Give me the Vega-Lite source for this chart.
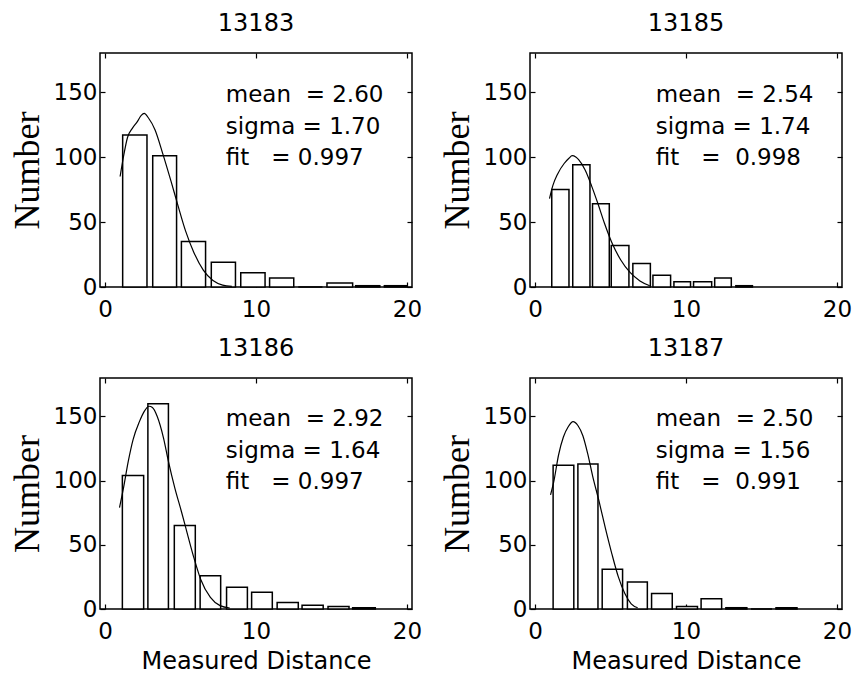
{
  "$schema": "https://vega.github.io/schema/vega-lite/v6.json",
  "padding": {"left": 8, "top": 11, "right": 0, "bottom": 0},
  "background": "white",
  "datasets": {
    "bars": [
      {"panel": "13183", "x0": 1.17, "x1": 2.78, "n": 117},
      {"panel": "13183", "x0": 3.16, "x1": 4.74, "n": 101},
      {"panel": "13183", "x0": 5.06, "x1": 6.66, "n": 35},
      {"panel": "13183", "x0": 7.04, "x1": 8.64, "n": 19},
      {"panel": "13183", "x0": 8.99, "x1": 10.6, "n": 11},
      {"panel": "13183", "x0": 10.9, "x1": 12.5, "n": 7},
      {"panel": "13183", "x0": 12.8, "x1": 14.4, "n": 0},
      {"panel": "13183", "x0": 14.7, "x1": 16.4, "n": 3},
      {"panel": "13183", "x0": 16.6, "x1": 18.2, "n": 1},
      {"panel": "13183", "x0": 18.5, "x1": 20.0, "n": 1},
      {"panel": "13185", "x0": 1.11, "x1": 2.25, "n": 75},
      {"panel": "13185", "x0": 2.5, "x1": 3.64, "n": 94},
      {"panel": "13185", "x0": 3.81, "x1": 4.92, "n": 64},
      {"panel": "13185", "x0": 5.05, "x1": 6.22, "n": 32},
      {"panel": "13185", "x0": 6.48, "x1": 7.64, "n": 18},
      {"panel": "13185", "x0": 7.81, "x1": 8.98, "n": 9},
      {"panel": "13185", "x0": 9.2, "x1": 10.3, "n": 4},
      {"panel": "13185", "x0": 10.5, "x1": 11.7, "n": 4},
      {"panel": "13185", "x0": 11.9, "x1": 13.0, "n": 7},
      {"panel": "13185", "x0": 13.3, "x1": 14.4, "n": 1},
      {"panel": "13186", "x0": 1.15, "x1": 2.56, "n": 104},
      {"panel": "13186", "x0": 2.84, "x1": 4.2, "n": 160},
      {"panel": "13186", "x0": 4.59, "x1": 5.98, "n": 65},
      {"panel": "13186", "x0": 6.3, "x1": 7.66, "n": 26},
      {"panel": "13186", "x0": 8.05, "x1": 9.43, "n": 17},
      {"panel": "13186", "x0": 9.71, "x1": 11.08, "n": 13},
      {"panel": "13186", "x0": 11.4, "x1": 12.8, "n": 5},
      {"panel": "13186", "x0": 13.05, "x1": 14.45, "n": 3},
      {"panel": "13186", "x0": 14.77, "x1": 16.16, "n": 2},
      {"panel": "13186", "x0": 16.4, "x1": 17.9, "n": 1},
      {"panel": "13187", "x0": 1.2, "x1": 2.57, "n": 112},
      {"panel": "13187", "x0": 2.84, "x1": 4.17, "n": 113},
      {"panel": "13187", "x0": 4.45, "x1": 5.8, "n": 31},
      {"panel": "13187", "x0": 6.12, "x1": 7.44, "n": 21},
      {"panel": "13187", "x0": 7.72, "x1": 9.09, "n": 12},
      {"panel": "13187", "x0": 9.37, "x1": 10.76, "n": 2},
      {"panel": "13187", "x0": 11.0, "x1": 12.36, "n": 8},
      {"panel": "13187", "x0": 12.64, "x1": 14.03, "n": 1},
      {"panel": "13187", "x0": 14.3, "x1": 15.7, "n": 0},
      {"panel": "13187", "x0": 15.96, "x1": 17.35, "n": 1}
    ],
    "fit": [
      {"panel": "13183", "x": 1.0, "y": 85}, {"panel": "13183", "x": 1.22, "y": 100}, {"panel": "13183", "x": 1.49, "y": 115},
      {"panel": "13183", "x": 1.81, "y": 122}, {"panel": "13183", "x": 2.13, "y": 127}, {"panel": "13183", "x": 2.4, "y": 132},
      {"panel": "13183", "x": 2.6, "y": 133.5}, {"panel": "13183", "x": 2.88, "y": 130}, {"panel": "13183", "x": 3.31, "y": 121},
      {"panel": "13183", "x": 3.84, "y": 102}, {"panel": "13183", "x": 4.38, "y": 81}, {"panel": "13183", "x": 4.8, "y": 64},
      {"panel": "13183", "x": 5.34, "y": 43}, {"panel": "13183", "x": 5.87, "y": 27}, {"panel": "13183", "x": 6.51, "y": 13},
      {"panel": "13183", "x": 7.15, "y": 5}, {"panel": "13183", "x": 7.79, "y": 1.5}, {"panel": "13183", "x": 8.4, "y": 0.5},
      {"panel": "13185", "x": 0.96, "y": 68}, {"panel": "13185", "x": 1.18, "y": 78}, {"panel": "13185", "x": 1.5, "y": 87},
      {"panel": "13185", "x": 1.93, "y": 95}, {"panel": "13185", "x": 2.25, "y": 99}, {"panel": "13185", "x": 2.46, "y": 101},
      {"panel": "13185", "x": 2.7, "y": 100}, {"panel": "13185", "x": 2.89, "y": 98}, {"panel": "13185", "x": 3.32, "y": 90},
      {"panel": "13185", "x": 3.74, "y": 78}, {"panel": "13185", "x": 4.17, "y": 64}, {"panel": "13185", "x": 4.6, "y": 49},
      {"panel": "13185", "x": 5.13, "y": 33}, {"panel": "13185", "x": 5.67, "y": 21}, {"panel": "13185", "x": 6.31, "y": 11},
      {"panel": "13185", "x": 6.95, "y": 4.7}, {"panel": "13185", "x": 7.6, "y": 1},
      {"panel": "13186", "x": 0.96, "y": 79}, {"panel": "13186", "x": 1.22, "y": 94}, {"panel": "13186", "x": 1.54, "y": 115},
      {"panel": "13186", "x": 1.86, "y": 132}, {"panel": "13186", "x": 2.28, "y": 146}, {"panel": "13186", "x": 2.6, "y": 154},
      {"panel": "13186", "x": 2.92, "y": 158}, {"panel": "13186", "x": 3.14, "y": 157}, {"panel": "13186", "x": 3.46, "y": 150},
      {"panel": "13186", "x": 3.88, "y": 133}, {"panel": "13186", "x": 4.2, "y": 115}, {"panel": "13186", "x": 4.63, "y": 94},
      {"panel": "13186", "x": 5.06, "y": 76}, {"panel": "13186", "x": 5.49, "y": 57}, {"panel": "13186", "x": 5.91, "y": 39},
      {"panel": "13186", "x": 6.34, "y": 23}, {"panel": "13186", "x": 6.98, "y": 9}, {"panel": "13186", "x": 7.62, "y": 2.6},
      {"panel": "13186", "x": 8.26, "y": 0.8},
      {"panel": "13187", "x": 1.03, "y": 89}, {"panel": "13187", "x": 1.24, "y": 99}, {"panel": "13187", "x": 1.56, "y": 120},
      {"panel": "13187", "x": 1.88, "y": 134}, {"panel": "13187", "x": 2.2, "y": 142}, {"panel": "13187", "x": 2.52, "y": 146},
      {"panel": "13187", "x": 2.84, "y": 143}, {"panel": "13187", "x": 3.17, "y": 135}, {"panel": "13187", "x": 3.49, "y": 121},
      {"panel": "13187", "x": 3.81, "y": 104}, {"panel": "13187", "x": 4.24, "y": 84}, {"panel": "13187", "x": 4.66, "y": 63},
      {"panel": "13187", "x": 5.09, "y": 43}, {"panel": "13187", "x": 5.52, "y": 25}, {"panel": "13187", "x": 5.95, "y": 12},
      {"panel": "13187", "x": 6.37, "y": 4}, {"panel": "13187", "x": 6.8, "y": 1}
    ],
    "notes": [
      {"panel": "13183", "tx": 8, "ty": 148, "label": "mean\u00a0\u00a0= 2.60"},
      {"panel": "13183", "tx": 8, "ty": 123, "label": "sigma = 1.70"},
      {"panel": "13183", "tx": 8, "ty": 99, "label": "fit\u00a0\u00a0\u00a0= 0.997"},
      {"panel": "13185", "tx": 8, "ty": 148, "label": "mean\u00a0\u00a0= 2.54"},
      {"panel": "13185", "tx": 8, "ty": 123, "label": "sigma = 1.74"},
      {"panel": "13185", "tx": 8, "ty": 99, "label": "fit\u00a0\u00a0\u00a0=\u00a0\u00a00.998"},
      {"panel": "13186", "tx": 8, "ty": 148, "label": "mean\u00a0\u00a0= 2.92"},
      {"panel": "13186", "tx": 8, "ty": 123, "label": "sigma = 1.64"},
      {"panel": "13186", "tx": 8, "ty": 99, "label": "fit\u00a0\u00a0\u00a0= 0.997"},
      {"panel": "13187", "tx": 8, "ty": 148, "label": "mean\u00a0\u00a0= 2.50"},
      {"panel": "13187", "tx": 8, "ty": 123, "label": "sigma = 1.56"},
      {"panel": "13187", "tx": 8, "ty": 99, "label": "fit\u00a0\u00a0\u00a0=\u00a0\u00a00.991"}
    ]
  },
  "config": {
    "view": {"stroke": "black", "strokeWidth": 1.5},
    "scale": {"nice": false},
    "axis": {
      "grid": false, "domain": false,
      "tickColor": "black", "tickSize": -5, "tickWidth": 1.2,
      "labelColor": "black", "labelFont": "DejaVu Sans", "labelFontSize": 23, "labelPadding": 8,
      "titleColor": "black", "titleFont": "Liberation Serif", "titleFontSize": 36, "titleFontWeight": "normal", "titlePadding": 7
    },
    "axisX": {"labelPadding": 16, "titleFont": "DejaVu Sans", "titleFontSize": 24, "titlePadding": 6},
    "title": {"font": "DejaVu Sans", "fontSize": 24, "fontWeight": "normal", "color": "black", "offset": 16}
  },
  "columns": 2,
  "spacing": {"column": 15, "row": 14},
  "concat": [
    {
      "title": "13183", "width": 312, "height": 234,
      "resolve": {"axis": {"x": "independent", "y": "independent"}},
      "layer": [
        {"data": {"name": "bars"}, "transform": [{"filter": "datum.panel === '13183'"}],
         "mark": {"type": "bar", "orient": "vertical", "fill": "white", "stroke": "black", "strokeWidth": 1.5},
         "encoding": {
           "x": {"field": "x0", "type": "quantitative", "scale": {"domain": [0, 20], "nice": false, "zero": false}, "axis": {"values": [0, 10, 20], "title": null}},
           "x2": {"field": "x1"},
           "y": {"field": "n", "type": "quantitative", "scale": {"domain": [0, 180], "nice": false}, "axis": {"values": [0, 50, 100, 150], "title": "Number"}},
           "y2": {"datum": 0}
         }},
        {"data": {"name": "fit"}, "transform": [{"filter": "datum.panel === '13183'"}],
         "mark": {"type": "line", "color": "black", "strokeWidth": 1.2, "interpolate": "monotone"},
         "encoding": {
           "x": {"field": "x", "type": "quantitative", "axis": {"orient": "top", "values": [0, 10, 20], "labels": false, "title": null}},
           "y": {"field": "y", "type": "quantitative", "axis": {"orient": "right", "values": [0, 50, 100, 150], "labels": false, "title": null}}
         }},
        {"data": {"name": "notes"}, "transform": [{"filter": "datum.panel === '13183'"}],
         "mark": {"type": "text", "align": "left", "baseline": "middle", "font": "DejaVu Sans", "fontSize": 23, "color": "black"},
         "encoding": {
           "x": {"field": "tx", "type": "quantitative", "axis": null},
           "y": {"field": "ty", "type": "quantitative", "axis": null},
           "text": {"field": "label"}
         }}
      ]
    },
    {
      "title": "13185", "width": 312, "height": 234,
      "resolve": {"axis": {"x": "independent", "y": "independent"}},
      "layer": [
        {"data": {"name": "bars"}, "transform": [{"filter": "datum.panel === '13185'"}],
         "mark": {"type": "bar", "orient": "vertical", "fill": "white", "stroke": "black", "strokeWidth": 1.5},
         "encoding": {
           "x": {"field": "x0", "type": "quantitative", "scale": {"domain": [0, 20], "nice": false, "zero": false}, "axis": {"values": [0, 10, 20], "title": null}},
           "x2": {"field": "x1"},
           "y": {"field": "n", "type": "quantitative", "scale": {"domain": [0, 180], "nice": false}, "axis": {"values": [0, 50, 100, 150], "title": "Number"}},
           "y2": {"datum": 0}
         }},
        {"data": {"name": "fit"}, "transform": [{"filter": "datum.panel === '13185'"}],
         "mark": {"type": "line", "color": "black", "strokeWidth": 1.2, "interpolate": "monotone"},
         "encoding": {
           "x": {"field": "x", "type": "quantitative", "axis": {"orient": "top", "values": [0, 10, 20], "labels": false, "title": null}},
           "y": {"field": "y", "type": "quantitative", "axis": {"orient": "right", "values": [0, 50, 100, 150], "labels": false, "title": null}}
         }},
        {"data": {"name": "notes"}, "transform": [{"filter": "datum.panel === '13185'"}],
         "mark": {"type": "text", "align": "left", "baseline": "middle", "font": "DejaVu Sans", "fontSize": 23, "color": "black"},
         "encoding": {
           "x": {"field": "tx", "type": "quantitative", "axis": null},
           "y": {"field": "ty", "type": "quantitative", "axis": null},
           "text": {"field": "label"}
         }}
      ]
    },
    {
      "title": "13186", "width": 312, "height": 231,
      "resolve": {"axis": {"x": "independent", "y": "independent"}},
      "layer": [
        {"data": {"name": "bars"}, "transform": [{"filter": "datum.panel === '13186'"}],
         "mark": {"type": "bar", "orient": "vertical", "fill": "white", "stroke": "black", "strokeWidth": 1.5},
         "encoding": {
           "x": {"field": "x0", "type": "quantitative", "scale": {"domain": [0, 20], "nice": false, "zero": false}, "axis": {"values": [0, 10, 20], "title": "Measured Distance"}},
           "x2": {"field": "x1"},
           "y": {"field": "n", "type": "quantitative", "scale": {"domain": [0, 180], "nice": false}, "axis": {"values": [0, 50, 100, 150], "title": "Number"}},
           "y2": {"datum": 0}
         }},
        {"data": {"name": "fit"}, "transform": [{"filter": "datum.panel === '13186'"}],
         "mark": {"type": "line", "color": "black", "strokeWidth": 1.2, "interpolate": "monotone"},
         "encoding": {
           "x": {"field": "x", "type": "quantitative", "axis": {"orient": "top", "values": [0, 10, 20], "labels": false, "title": null}},
           "y": {"field": "y", "type": "quantitative", "axis": {"orient": "right", "values": [0, 50, 100, 150], "labels": false, "title": null}}
         }},
        {"data": {"name": "notes"}, "transform": [{"filter": "datum.panel === '13186'"}],
         "mark": {"type": "text", "align": "left", "baseline": "middle", "font": "DejaVu Sans", "fontSize": 23, "color": "black"},
         "encoding": {
           "x": {"field": "tx", "type": "quantitative", "axis": null},
           "y": {"field": "ty", "type": "quantitative", "axis": null},
           "text": {"field": "label"}
         }}
      ]
    },
    {
      "title": "13187", "width": 312, "height": 231,
      "resolve": {"axis": {"x": "independent", "y": "independent"}},
      "layer": [
        {"data": {"name": "bars"}, "transform": [{"filter": "datum.panel === '13187'"}],
         "mark": {"type": "bar", "orient": "vertical", "fill": "white", "stroke": "black", "strokeWidth": 1.5},
         "encoding": {
           "x": {"field": "x0", "type": "quantitative", "scale": {"domain": [0, 20], "nice": false, "zero": false}, "axis": {"values": [0, 10, 20], "title": "Measured Distance"}},
           "x2": {"field": "x1"},
           "y": {"field": "n", "type": "quantitative", "scale": {"domain": [0, 180], "nice": false}, "axis": {"values": [0, 50, 100, 150], "title": "Number"}},
           "y2": {"datum": 0}
         }},
        {"data": {"name": "fit"}, "transform": [{"filter": "datum.panel === '13187'"}],
         "mark": {"type": "line", "color": "black", "strokeWidth": 1.2, "interpolate": "monotone"},
         "encoding": {
           "x": {"field": "x", "type": "quantitative", "axis": {"orient": "top", "values": [0, 10, 20], "labels": false, "title": null}},
           "y": {"field": "y", "type": "quantitative", "axis": {"orient": "right", "values": [0, 50, 100, 150], "labels": false, "title": null}}
         }},
        {"data": {"name": "notes"}, "transform": [{"filter": "datum.panel === '13187'"}],
         "mark": {"type": "text", "align": "left", "baseline": "middle", "font": "DejaVu Sans", "fontSize": 23, "color": "black"},
         "encoding": {
           "x": {"field": "tx", "type": "quantitative", "axis": null},
           "y": {"field": "ty", "type": "quantitative", "axis": null},
           "text": {"field": "label"}
         }}
      ]
    }
  ]
}
